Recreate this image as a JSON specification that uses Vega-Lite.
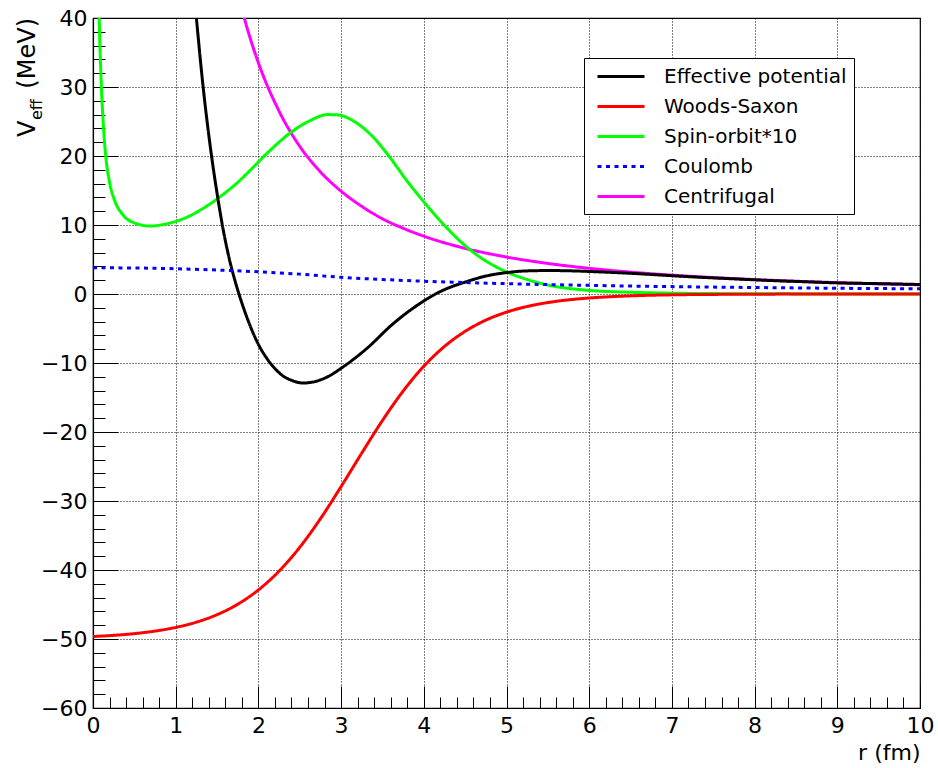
{
  "$schema": "https://vega.github.io/schema/vega-lite/v6.json",
  "width": 827,
  "height": 690,
  "autosize": {"type": "none"},
  "padding": {"left": 93, "top": 18, "right": 18, "bottom": 60},
  "background": "white",
  "config": {"view": {"stroke": "black", "strokeWidth": 1.2}, "font": "DejaVu Sans"},
  "datasets": {
    "curves": [
      {"s": "Centrifugal", "r": 1.8, "v": 41.4},
      {"s": "Centrifugal", "r": 1.83, "v": 40.0},
      {"s": "Centrifugal", "r": 1.9, "v": 37.1},
      {"s": "Centrifugal", "r": 2.0, "v": 33.5},
      {"s": "Centrifugal", "r": 2.25, "v": 26.5},
      {"s": "Centrifugal", "r": 2.5, "v": 21.4},
      {"s": "Centrifugal", "r": 2.75, "v": 17.7},
      {"s": "Centrifugal", "r": 3.0, "v": 14.9},
      {"s": "Centrifugal", "r": 3.25, "v": 12.7},
      {"s": "Centrifugal", "r": 3.5, "v": 10.9},
      {"s": "Centrifugal", "r": 3.75, "v": 9.53},
      {"s": "Centrifugal", "r": 4.0, "v": 8.38},
      {"s": "Centrifugal", "r": 4.5, "v": 6.62},
      {"s": "Centrifugal", "r": 5.0, "v": 5.36},
      {"s": "Centrifugal", "r": 5.5, "v": 4.43},
      {"s": "Centrifugal", "r": 6.0, "v": 3.72},
      {"s": "Centrifugal", "r": 6.5, "v": 3.17},
      {"s": "Centrifugal", "r": 7.0, "v": 2.73},
      {"s": "Centrifugal", "r": 7.5, "v": 2.38},
      {"s": "Centrifugal", "r": 8.0, "v": 2.09},
      {"s": "Centrifugal", "r": 8.5, "v": 1.85},
      {"s": "Centrifugal", "r": 9.0, "v": 1.65},
      {"s": "Centrifugal", "r": 9.5, "v": 1.48},
      {"s": "Centrifugal", "r": 10.0, "v": 1.34},

      {"s": "Spin-orbit*10", "r": 0.05, "v": 60},
      {"s": "Spin-orbit*10", "r": 0.07, "v": 43},
      {"s": "Spin-orbit*10", "r": 0.1, "v": 30.5},
      {"s": "Spin-orbit*10", "r": 0.125, "v": 24.5},
      {"s": "Spin-orbit*10", "r": 0.15, "v": 20.5},
      {"s": "Spin-orbit*10", "r": 0.2, "v": 16.2},
      {"s": "Spin-orbit*10", "r": 0.26, "v": 13.6},
      {"s": "Spin-orbit*10", "r": 0.36, "v": 11.5},
      {"s": "Spin-orbit*10", "r": 0.5, "v": 10.3},
      {"s": "Spin-orbit*10", "r": 0.69, "v": 9.85},
      {"s": "Spin-orbit*10", "r": 0.9, "v": 10.2},
      {"s": "Spin-orbit*10", "r": 1.13, "v": 11.1},
      {"s": "Spin-orbit*10", "r": 1.37, "v": 12.7},
      {"s": "Spin-orbit*10", "r": 1.57, "v": 14.4},
      {"s": "Spin-orbit*10", "r": 1.77, "v": 16.4},
      {"s": "Spin-orbit*10", "r": 1.89, "v": 17.8},
      {"s": "Spin-orbit*10", "r": 2.14, "v": 20.8},
      {"s": "Spin-orbit*10", "r": 2.38, "v": 23.3},
      {"s": "Spin-orbit*10", "r": 2.62, "v": 25.1},
      {"s": "Spin-orbit*10", "r": 2.84, "v": 26.0},
      {"s": "Spin-orbit*10", "r": 2.97, "v": 25.95},
      {"s": "Spin-orbit*10", "r": 3.1, "v": 25.4},
      {"s": "Spin-orbit*10", "r": 3.35, "v": 23.2},
      {"s": "Spin-orbit*10", "r": 3.59, "v": 19.8},
      {"s": "Spin-orbit*10", "r": 3.79, "v": 16.5},
      {"s": "Spin-orbit*10", "r": 3.99, "v": 13.5},
      {"s": "Spin-orbit*10", "r": 4.23, "v": 10.2},
      {"s": "Spin-orbit*10", "r": 4.52, "v": 6.8},
      {"s": "Spin-orbit*10", "r": 4.88, "v": 3.9},
      {"s": "Spin-orbit*10", "r": 5.0, "v": 3.2},
      {"s": "Spin-orbit*10", "r": 5.25, "v": 2.1},
      {"s": "Spin-orbit*10", "r": 5.52, "v": 1.25},
      {"s": "Spin-orbit*10", "r": 5.97, "v": 0.55},
      {"s": "Spin-orbit*10", "r": 6.5, "v": 0.25},
      {"s": "Spin-orbit*10", "r": 7.0, "v": 0.12},
      {"s": "Spin-orbit*10", "r": 7.5, "v": 0.06},
      {"s": "Spin-orbit*10", "r": 8.0, "v": 0.03},
      {"s": "Spin-orbit*10", "r": 9.0, "v": 0.01},
      {"s": "Spin-orbit*10", "r": 10.0, "v": 0.0},

      {"s": "Woods-Saxon", "r": 0.0, "v": -49.64},
      {"s": "Woods-Saxon", "r": 0.25, "v": -49.47},
      {"s": "Woods-Saxon", "r": 0.5, "v": -49.22},
      {"s": "Woods-Saxon", "r": 0.75, "v": -48.85},
      {"s": "Woods-Saxon", "r": 1.0, "v": -48.32},
      {"s": "Woods-Saxon", "r": 1.25, "v": -47.56},
      {"s": "Woods-Saxon", "r": 1.5, "v": -46.47},
      {"s": "Woods-Saxon", "r": 1.75, "v": -44.96},
      {"s": "Woods-Saxon", "r": 2.0, "v": -42.89},
      {"s": "Woods-Saxon", "r": 2.25, "v": -40.16},
      {"s": "Woods-Saxon", "r": 2.5, "v": -36.71},
      {"s": "Woods-Saxon", "r": 2.75, "v": -32.57},
      {"s": "Woods-Saxon", "r": 3.0, "v": -27.91},
      {"s": "Woods-Saxon", "r": 3.25, "v": -23.05},
      {"s": "Woods-Saxon", "r": 3.5, "v": -18.33},
      {"s": "Woods-Saxon", "r": 3.75, "v": -14.07},
      {"s": "Woods-Saxon", "r": 4.0, "v": -10.47},
      {"s": "Woods-Saxon", "r": 4.25, "v": -7.6},
      {"s": "Woods-Saxon", "r": 4.5, "v": -5.41},
      {"s": "Woods-Saxon", "r": 4.75, "v": -3.79},
      {"s": "Woods-Saxon", "r": 5.0, "v": -2.63},
      {"s": "Woods-Saxon", "r": 5.25, "v": -1.81},
      {"s": "Woods-Saxon", "r": 5.5, "v": -1.24},
      {"s": "Woods-Saxon", "r": 5.75, "v": -0.85},
      {"s": "Woods-Saxon", "r": 6.0, "v": -0.58},
      {"s": "Woods-Saxon", "r": 6.5, "v": -0.27},
      {"s": "Woods-Saxon", "r": 7.0, "v": -0.12},
      {"s": "Woods-Saxon", "r": 7.5, "v": -0.06},
      {"s": "Woods-Saxon", "r": 8.0, "v": -0.03},
      {"s": "Woods-Saxon", "r": 8.5, "v": -0.01},
      {"s": "Woods-Saxon", "r": 9.0, "v": -0.005},
      {"s": "Woods-Saxon", "r": 10.0, "v": -0.001},

      {"s": "Effective potential", "r": 1.2, "v": 46.5},
      {"s": "Effective potential", "r": 1.25, "v": 40.0},
      {"s": "Effective potential", "r": 1.33, "v": 30.2},
      {"s": "Effective potential", "r": 1.43, "v": 20.3},
      {"s": "Effective potential", "r": 1.5, "v": 14.6},
      {"s": "Effective potential", "r": 1.57, "v": 9.6},
      {"s": "Effective potential", "r": 1.65, "v": 5.0},
      {"s": "Effective potential", "r": 1.72, "v": 1.8},
      {"s": "Effective potential", "r": 1.8, "v": -1.3},
      {"s": "Effective potential", "r": 1.9, "v": -4.6},
      {"s": "Effective potential", "r": 2.0, "v": -7.3},
      {"s": "Effective potential", "r": 2.1, "v": -9.3},
      {"s": "Effective potential", "r": 2.2, "v": -10.8},
      {"s": "Effective potential", "r": 2.3, "v": -11.9},
      {"s": "Effective potential", "r": 2.4, "v": -12.5},
      {"s": "Effective potential", "r": 2.54, "v": -12.9},
      {"s": "Effective potential", "r": 2.68, "v": -12.7},
      {"s": "Effective potential", "r": 2.82, "v": -12.1},
      {"s": "Effective potential", "r": 3.02, "v": -10.6},
      {"s": "Effective potential", "r": 3.31, "v": -7.9},
      {"s": "Effective potential", "r": 3.63, "v": -4.3},
      {"s": "Effective potential", "r": 3.95, "v": -1.4},
      {"s": "Effective potential", "r": 4.19, "v": 0.3},
      {"s": "Effective potential", "r": 4.52, "v": 1.8},
      {"s": "Effective potential", "r": 4.75, "v": 2.6},
      {"s": "Effective potential", "r": 5.0, "v": 3.1},
      {"s": "Effective potential", "r": 5.25, "v": 3.35},
      {"s": "Effective potential", "r": 5.52, "v": 3.4},
      {"s": "Effective potential", "r": 5.8, "v": 3.35},
      {"s": "Effective potential", "r": 6.13, "v": 3.2},
      {"s": "Effective potential", "r": 6.5, "v": 3.0},
      {"s": "Effective potential", "r": 6.93, "v": 2.7},
      {"s": "Effective potential", "r": 7.3, "v": 2.45},
      {"s": "Effective potential", "r": 7.74, "v": 2.2},
      {"s": "Effective potential", "r": 8.2, "v": 1.95},
      {"s": "Effective potential", "r": 8.55, "v": 1.8},
      {"s": "Effective potential", "r": 9.03, "v": 1.6},
      {"s": "Effective potential", "r": 9.5, "v": 1.5},
      {"s": "Effective potential", "r": 10.0, "v": 1.38},

      {"s": "Coulomb", "r": 0.0, "v": 3.8},
      {"s": "Coulomb", "r": 0.5, "v": 3.77},
      {"s": "Coulomb", "r": 1.0, "v": 3.66},
      {"s": "Coulomb", "r": 1.5, "v": 3.47},
      {"s": "Coulomb", "r": 2.0, "v": 3.22},
      {"s": "Coulomb", "r": 2.5, "v": 2.88},
      {"s": "Coulomb", "r": 3.0, "v": 2.42},
      {"s": "Coulomb", "r": 3.5, "v": 2.1},
      {"s": "Coulomb", "r": 4.0, "v": 1.85},
      {"s": "Coulomb", "r": 4.5, "v": 1.66},
      {"s": "Coulomb", "r": 5.0, "v": 1.5},
      {"s": "Coulomb", "r": 5.5, "v": 1.36},
      {"s": "Coulomb", "r": 6.0, "v": 1.25},
      {"s": "Coulomb", "r": 6.5, "v": 1.15},
      {"s": "Coulomb", "r": 7.0, "v": 1.07},
      {"s": "Coulomb", "r": 7.5, "v": 1.0},
      {"s": "Coulomb", "r": 8.0, "v": 0.94},
      {"s": "Coulomb", "r": 8.5, "v": 0.88},
      {"s": "Coulomb", "r": 9.0, "v": 0.83},
      {"s": "Coulomb", "r": 9.5, "v": 0.79},
      {"s": "Coulomb", "r": 10.0, "v": 0.75}
    ]
  },
  "resolve": {"axis": {"x": "independent", "y": "independent"}},
  "layer": [
    {
      "data": {"name": "curves"},
      "mark": {"type": "line", "strokeWidth": 3, "clip": true, "interpolate": "monotone"},
      "encoding": {
        "x": {
          "field": "r", "type": "quantitative",
          "scale": {"domain": [0, 10], "nice": false, "zero": false},
          "axis": {
            "orient": "bottom",
            "values": [0, 1, 2, 3, 4, 5, 6, 7, 8, 9, 10],
            "format": "d",
            "tickSize": -22, "tickColor": "black", "tickWidth": 1,
            "grid": true, "gridColor": "black", "gridDash": [1, 2], "gridWidth": 1, "gridOpacity": 1,
            "domainColor": "black", "domainWidth": 1.2,
            "labelFontSize": 22, "labelColor": "black", "labelFont": "DejaVu Sans",
            "labelPadding": 29, "labelFlush": false, "labelOverlap": false,
            "title": "r (fm)", "titleFontSize": 22, "titleFontWeight": "normal", "titleFont": "DejaVu Sans",
            "titleColor": "black", "titleAnchor": "end", "titlePadding": 6
          }
        },
        "y": {
          "field": "v", "type": "quantitative",
          "scale": {"domain": [-60, 40], "nice": false, "zero": false},
          "axis": {
            "orient": "left",
            "values": [-60, -50, -40, -30, -20, -10, 0, 10, 20, 30, 40],
            "tickSize": -25, "tickColor": "black", "tickWidth": 1,
            "grid": true, "gridColor": "black", "gridDash": [1, 2], "gridWidth": 1, "gridOpacity": 1,
            "domainColor": "black", "domainWidth": 1.2,
            "labelFontSize": 22, "labelColor": "black", "labelFont": "DejaVu Sans",
            "labelPadding": 31, "labelFlush": false, "labelOverlap": false,
            "title": null
          }
        },
        "color": {
          "field": "s", "type": "nominal",
          "scale": {
            "domain": ["Effective potential", "Woods-Saxon", "Spin-orbit*10", "Coulomb", "Centrifugal"],
            "range": ["#000000", "#ff0000", "#00ff00", "#0000ff", "#ff00ff"]
          },
          "legend": {
            "orient": "none", "legendX": 491, "legendY": 40, "title": null,
            "fillColor": "white", "strokeColor": "black", "padding": 7,
            "symbolType": "M-0.5,0H4.2", "symbolSize": 400, "symbolStrokeWidth": 3,
            "labelFontSize": 20, "labelFont": "DejaVu Sans", "labelColor": "black",
            "labelOffset": 50, "rowPadding": 8, "labelLimit": 400
          }
        },
        "strokeDash": {
          "field": "s", "type": "nominal",
          "scale": {
            "domain": ["Effective potential", "Woods-Saxon", "Spin-orbit*10", "Coulomb", "Centrifugal"],
            "range": [[1, 0], [1, 0], [1, 0], [4, 4.5], [1, 0]]
          },
          "legend": {
            "orient": "none", "legendX": 491, "legendY": 40, "title": null,
            "fillColor": "white", "strokeColor": "black", "padding": 7,
            "symbolType": "M-0.5,0H4.2", "symbolSize": 400, "symbolStrokeWidth": 3,
            "labelFontSize": 20, "labelFont": "DejaVu Sans", "labelColor": "black",
            "labelOffset": 50, "rowPadding": 8, "labelLimit": 400
          }
        }
      }
    },
    {
      "data": {"values": [{}]},
      "mark": {"type": "point", "opacity": 0},
      "encoding": {
        "x": {
          "datum": 5, "type": "quantitative",
          "scale": {"domain": [0, 10], "nice": false, "zero": false},
          "axis": {
            "orient": "bottom",
            "values": [0, 0.2, 0.4, 0.6, 0.8, 1, 1.2, 1.4, 1.6, 1.8, 2, 2.2, 2.4, 2.6, 2.8, 3, 3.2, 3.4, 3.6, 3.8, 4, 4.2, 4.4, 4.6, 4.8, 5, 5.2, 5.4, 5.6, 5.8, 6, 6.2, 6.4, 6.6, 6.8, 7, 7.2, 7.4, 7.6, 7.8, 8, 8.2, 8.4, 8.6, 8.8, 9, 9.2, 9.4, 9.6, 9.8, 10],
            "tickSize": -11, "tickColor": "black", "tickWidth": 1,
            "labels": false, "domain": false, "grid": false, "title": null
          }
        },
        "y": {
          "datum": 0, "type": "quantitative",
          "scale": {"domain": [-60, 40], "nice": false, "zero": false},
          "axis": {
            "orient": "left",
            "values": [-60, -58, -56, -54, -52, -50, -48, -46, -44, -42, -40, -38, -36, -34, -32, -30, -28, -26, -24, -22, -20, -18, -16, -14, -12, -10, -8, -6, -4, -2, 0, 2, 4, 6, 8, 10, 12, 14, 16, 18, 20, 22, 24, 26, 28, 30, 32, 34, 36, 38, 40],
            "tickSize": -12, "tickColor": "black", "tickWidth": 1,
            "labels": false, "domain": false, "grid": false, "title": null
          }
        }
      }
    },
    {
      "data": {"values": [{}]},
      "mark": {"type": "text", "text": "V", "angle": 270, "align": "left", "baseline": "alphabetic", "fontSize": 24, "font": "DejaVu Sans", "color": "black"},
      "encoding": {
        "x": {"datum": -0.70, "type": "quantitative", "scale": {"domain": [0, 10], "nice": false, "zero": false}, "axis": null},
        "y": {"datum": 22.75, "type": "quantitative", "scale": {"domain": [-60, 40], "nice": false, "zero": false}, "axis": null}
      }
    },
    {
      "data": {"values": [{}]},
      "mark": {"type": "text", "text": "eff", "angle": 270, "align": "left", "baseline": "alphabetic", "fontSize": 16, "font": "DejaVu Sans", "color": "black"},
      "encoding": {
        "x": {"datum": -0.617, "type": "quantitative", "scale": {"domain": [0, 10], "nice": false, "zero": false}, "axis": null},
        "y": {"datum": 25.2, "type": "quantitative", "scale": {"domain": [-60, 40], "nice": false, "zero": false}, "axis": null}
      }
    },
    {
      "data": {"values": [{}]},
      "mark": {"type": "text", "text": "(MeV)", "angle": 270, "align": "right", "baseline": "alphabetic", "fontSize": 24, "font": "DejaVu Sans", "color": "black"},
      "encoding": {
        "x": {"datum": -0.70, "type": "quantitative", "scale": {"domain": [0, 10], "nice": false, "zero": false}, "axis": null},
        "y": {"datum": 40, "type": "quantitative", "scale": {"domain": [-60, 40], "nice": false, "zero": false}, "axis": null}
      }
    }
  ]
}
